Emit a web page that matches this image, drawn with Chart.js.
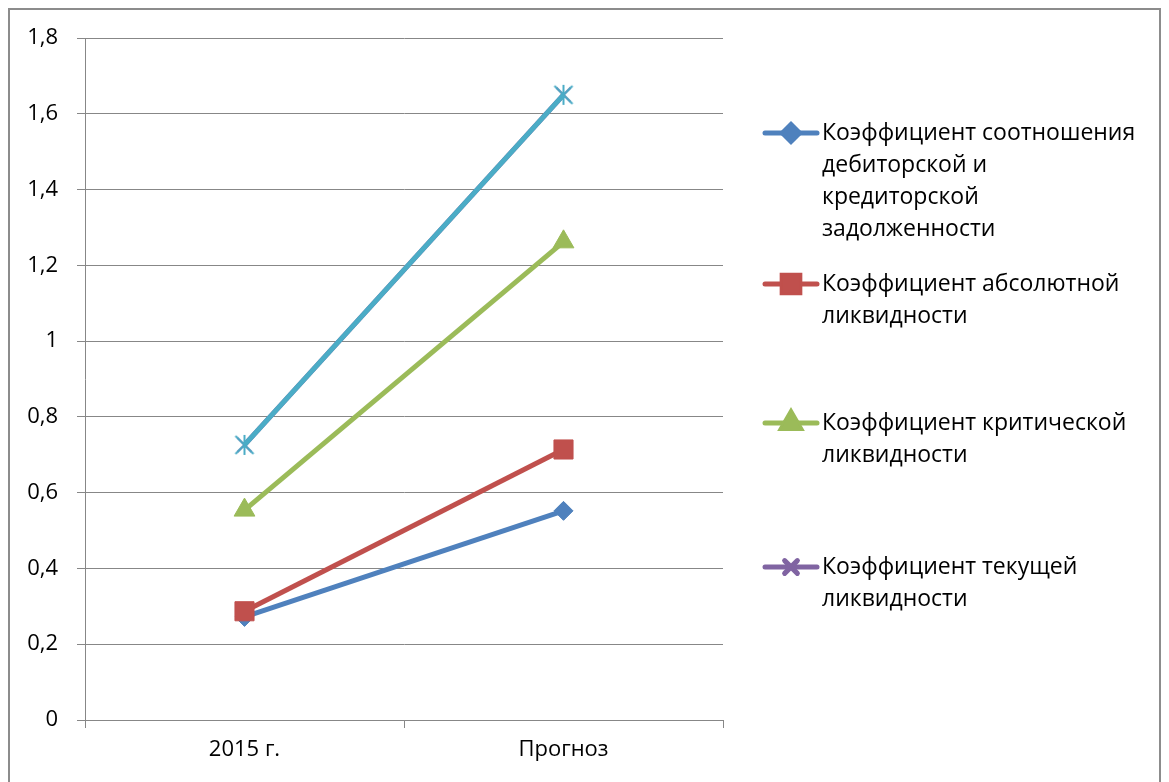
<!DOCTYPE html>
<html>
<head>
<meta charset="utf-8">
<script src="https://cdn.jsdelivr.net/npm/chart.js@4/dist/chart.umd.min.js"></script>
<style>
  html, body { margin: 0; padding: 0; background: #ffffff; }
  #wrap { width: 1169px; height: 782px; }
</style>
</head>
<body>
<div id="wrap"><canvas id="c" width="1169" height="782"></canvas></div>
<script>
// Categories and values of the liquidity ratios
const categories = ['2015 г.', 'Прогноз'];
const receivablesPayablesRatio = [0.272, 0.552];
const absoluteLiquidity = [0.287, 0.714];
const quickLiquidity = [0.554, 1.262];
const currentLiquidity = [0.726, 1.65];
const yTickLabels = ['0', '0,2', '0,4', '0,6', '0,8', '1', '1,2', '1,4', '1,6', '1,8'];
const seriesNames = [
  ['Коэффициент соотношения', 'дебиторской и', 'кредиторской', 'задолженности'],
  ['Коэффициент абсолютной', 'ликвидности'],
  ['Коэффициент критической', 'ликвидности'],
  ['Коэффициент текущей', 'ликвидности']
];

const FONT = '"Open Sans", "Noto Sans", sans-serif';
const GRID = '#878787';

// Asterisk marker: an X with a vertical stroke
function starMarker(color) {
  const s = 22, c = document.createElement('canvas');
  c.width = s; c.height = s;
  const g = c.getContext('2d');
  g.strokeStyle = color; g.lineWidth = 2; g.lineCap = 'butt';
  g.beginPath();
  g.moveTo(2, 2); g.lineTo(s - 2, s - 2);
  g.moveTo(s - 2, 2); g.lineTo(2, s - 2);
  g.moveTo(s / 2, 1); g.lineTo(s / 2, s - 1);
  g.stroke();
  return c;
}

const datasets = [
  { label: seriesNames[0].join(' '), data: receivablesPayablesRatio, borderColor: '#4f81bd', backgroundColor: '#4f81bd',
    pointStyle: 'rectRot', pointRadius: 9.5, legendRadius: 8.5, order: 4 },
  { label: seriesNames[1].join(' '), data: absoluteLiquidity, borderColor: '#c0504d', backgroundColor: '#c0504d',
    pointStyle: 'rect', pointRadius: 13.5, legendRadius: 12.5, order: 3 },
  { label: seriesNames[2].join(' '), data: quickLiquidity, borderColor: '#9bbb59', backgroundColor: '#9bbb59',
    pointStyle: 'triangle', pointRadius: 12, legendRadius: 11, order: 2 },
  { label: seriesNames[3].join(' '), data: currentLiquidity, borderColor: '#8064a2', backgroundColor: '#8064a2',
    pointStyle: 'crossRot', pointRadius: 10, legendRadius: 9, pointBorderWidth: 2, order: 1 },
  { label: 'current-overlay', data: currentLiquidity, borderColor: '#4bacc6', backgroundColor: '#4bacc6',
    pointStyle: starMarker('#4bacc6'), pointRadius: 11, order: 0 }
].map(d => Object.assign({ borderWidth: 5, tension: 0, fill: false, pointBorderWidth: d.pointBorderWidth || 1,
  pointBorderColor: d.borderColor, pointBackgroundColor: d.backgroundColor }, d));

// Outer frame
const framePlugin = {
  id: 'frame',
  beforeDraw(chart) {
    const ctx = chart.ctx;
    ctx.save();
    ctx.fillStyle = '#ffffff';
    ctx.fillRect(0, 0, chart.width, chart.height);
    ctx.strokeStyle = '#8c8c8c';
    ctx.lineWidth = 2;
    ctx.strokeRect(9, 9, 1151, 800);
    ctx.restore();
  }
};

// Legend on the right with wrapped series names
const sideLegend = {
  id: 'sideLegend',
  afterDraw(chart, args, opts) {
    const ctx = chart.ctx;
    ctx.save();
    ctx.font = '23px ' + FONT;
    ctx.fillStyle = '#000000';
    ctx.textBaseline = 'middle';
    ctx.textAlign = 'left';
    seriesNames.forEach((lines, i) => {
      const ds = chart.data.datasets[i];
      const y = opts.itemY[i];
      ctx.strokeStyle = ds.borderColor;
      ctx.lineWidth = 5;
      ctx.lineCap = 'round';
      ctx.beginPath();
      ctx.moveTo(opts.lineX0, y);
      ctx.lineTo(opts.lineX1, y);
      ctx.stroke();
      Chart.helpers.drawPoint(ctx, {
        pointStyle: ds.pointStyle, radius: ds.legendRadius, rotation: 0,
        borderWidth: ds.pointBorderWidth
      }, (opts.lineX0 + opts.lineX1) / 2, y);
      ctx.fillStyle = ds.backgroundColor;
      ctx.strokeStyle = ds.borderColor;
      ctx.lineWidth = ds.pointBorderWidth;
      ctx.fill();
      ctx.stroke();
      ctx.fillStyle = '#000000';
      lines.forEach((t, k) => ctx.fillText(t, opts.textX, y + k * opts.lineGap));
    });
    ctx.restore();
  }
};

new Chart(document.getElementById('c'), {
  type: 'line',
  data: { labels: categories, datasets },
  plugins: [framePlugin, sideLegend],
  options: {
    responsive: false,
    animation: false,
    layout: { padding: { left: 0, top: 38, right: 446, bottom: 0 } },
    plugins: {
      legend: { display: false },
      tooltip: { enabled: false },
      sideLegend: { itemY: [133, 284, 423, 567], lineX0: 765, lineX1: 817, textX: 822, lineGap: 32 }
    },
    scales: {
      x: {
        offset: true,
        afterFit(s) { s.height = 62; },
        grid: { offset: true, drawOnChartArea: false, drawTicks: true, tickLength: 8, color: GRID, lineWidth: 1 },
        border: { color: GRID, width: 1 },
        ticks: { color: '#000000', font: { family: FONT, size: 22 }, padding: 9 }
      },
      y: {
        min: 0, max: 1.8,
        afterFit(s) { s.width = 85; },
        grid: { color: GRID, lineWidth: 1, tickLength: 8 },
        border: { color: GRID, width: 1 },
        ticks: {
          stepSize: 0.2, color: '#000000', font: { family: FONT, size: 22 }, padding: 19,
          callback: (v, i) => yTickLabels[i]
        }
      }
    }
  }
});
</script>
</body>
</html>
